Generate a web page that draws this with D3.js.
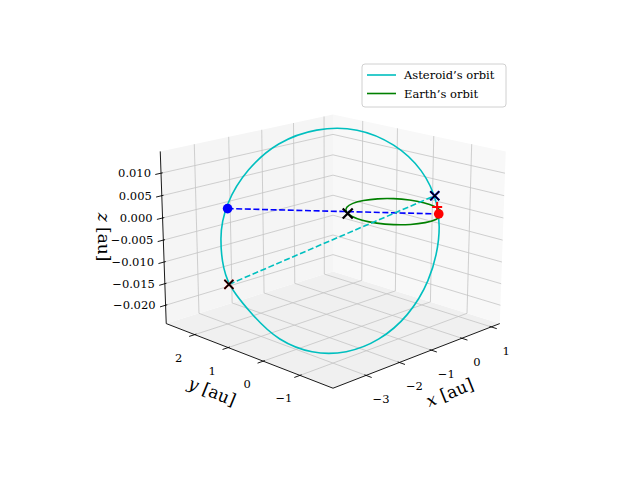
<!DOCTYPE html>
<html><head><meta charset="utf-8">
<script src="https://cdn.jsdelivr.net/npm/d3@7"></script>
<style>body{margin:0;background:#fff}</style></head>
<body><svg id="c" width="640" height="480"></svg>
<script>
// ---- data ----
const xLim = [-3.95, 1.3], yLim = [-1.86, 2.89], zLim = [-0.0243, 0.0148];
const xTicks = [-3, -2, -1, 0, 1];
const yTicks = [-1, 0, 1, 2];
const zTicks = [-0.020, -0.015, -0.010, -0.005, 0.000, 0.005, 0.010];
const zTickLabels = ["\u22120.020","\u22120.015","\u22120.010","\u22120.005","0.000","0.005","0.010"];
const astX = [0.812,0.897,0.711,0.277,-0.354,-1.106,-1.885,-2.70,-3.25,-3.55,-3.597,-3.411,-2.977,-2.346,-1.594,-0.815,-0.099,0.467];
const astY = [-0.305,0.322,0.971,1.562,2.027,2.307,2.368,2.28,1.88,1.33,0.678,0.029,-0.562,-1.027,-1.307,-1.368,-1.205,-0.836];
const astZ = [-0.0172,-0.0273,-0.0347,-0.0385,-0.0382,-0.0338,-0.0260,-0.0156,-0.0038,0.0059,0.0145,0.0208,0.0240,0.0238,0.0200,0.0134,0.0046,-0.0056];
const earthX = [1,0.940,0.766,0.5,0.174,-0.174,-0.5,-0.766,-0.94,-1,-0.94,-0.766,-0.5,-0.174,0.174,0.5,0.766,0.94];
const earthY = [0,0.342,0.643,0.866,0.985,0.985,0.866,0.643,0.342,0,-0.342,-0.643,-0.866,-0.985,-0.985,-0.866,-0.643,-0.342];
const blueDot = [-3.50, 1.40, 0.0045];
const redDot = [0.12, -1.10, 0.0016];
const redX = [-2.65, 2.30, -0.0167];
const blueX = [-0.24, -1.27, 0.0067];
const redPlus = [-0.034, -1.176, 0.0036];
const blackX = [-0.85, 0.53, 0.0];
const legendLabels = ["Asteroid\u2019s orbit", "Earth\u2019s orbit"];
const colors = {ast: "#00bfbf", earth: "#008000", blue: "#0000ff", red: "#ff0000"};

// ---- projection ----
const sx = d3.scaleLinear().domain(xLim).range([-2, 2]);
const sy = d3.scaleLinear().domain(yLim).range([-2, 2]);
const sz = d3.scaleLinear().domain(zLim).range([-1.5, 1.5]);
const elev = 17 * Math.PI / 180, azim = -135 * Math.PI / 180, dist = 25, K = 60, CX = 333, CY = 239;
const E = [Math.cos(elev)*Math.cos(azim), Math.cos(elev)*Math.sin(azim), Math.sin(elev)];
const R = [-Math.sin(azim), Math.cos(azim), 0];
const U = [-Math.sin(elev)*Math.cos(azim), -Math.sin(elev)*Math.sin(azim), Math.cos(elev)];
function P(x, y, z) {
  const p = [sx(x), sy(y), sz(z)];
  const dot = v => p[0]*v[0] + p[1]*v[1] + p[2]*v[2];
  const f = dist / (dist - dot(E));
  return [CX + K*f*dot(R), CY - K*f*dot(U)];
}
const svg = d3.select("#c");
const line = d3.line();
const [x0, x1] = xLim, [y0, y1] = yLim, [z0, z1] = zLim;

// panes
function poly(pts, fill) {
  svg.append("path").attr("d", line(pts.map(p => P(...p))) + "Z").attr("fill", fill).attr("stroke", "none");
}
poly([[x0,y0,z0],[x1,y0,z0],[x1,y1,z0],[x0,y1,z0]], "#f0f0f0");
poly([[x0,y1,z0],[x1,y1,z0],[x1,y1,z1],[x0,y1,z1]], "#f5f5f5");
poly([[x1,y0,z0],[x1,y1,z0],[x1,y1,z1],[x1,y0,z1]], "#f8f8f8");
// grid
const grid = svg.append("g").attr("stroke", "#c4c4c4").attr("stroke-width", 0.8).attr("fill", "none");
function seg(a, b, g = grid) { g.append("path").attr("d", line([P(...a), P(...b)])); }
xTicks.forEach(x => { seg([x,y0,z0],[x,y1,z0]); seg([x,y1,z0],[x,y1,z1]); });
yTicks.forEach(y => { seg([x0,y,z0],[x1,y,z0]); seg([x1,y,z0],[x1,y,z1]); });
zTicks.forEach(z => { seg([x0,y1,z],[x1,y1,z]); seg([x1,y1,z],[x1,y0,z]); });
// axis lines
const ax = svg.append("g").attr("stroke", "#000").attr("stroke-width", 0.9).attr("fill", "none");
seg([x0,y0,z0],[x1,y0,z0], ax);
seg([x0,y0,z0],[x0,y1,z0], ax);
seg([x0,y1,z0],[x0,y1,z1], ax);
const dxr = (x1-x0)*0.03, dyr = (y1-y0)*0.03;
const tfont = "'DejaVu Serif', 'Liberation Serif', serif";
xTicks.forEach(x => {
  seg([x,y0+dyr*0.3,z0],[x,y0-dyr,z0], ax);
  const p = P(x, y0, z0);
  svg.append("text").attr("x", p[0]+15).attr("y", p[1]+28).attr("text-anchor","middle")
    .attr("font-family", tfont).attr("font-size", 11.5).text(String(x).replace("-", "\u2212"));
});
yTicks.forEach(y => {
  seg([x0+dxr*0.3,y,z0],[x0-dxr,y,z0], ax);
  const p = P(x0, y, z0);
  svg.append("text").attr("x", p[0]-16).attr("y", p[1]+27).attr("text-anchor","middle")
    .attr("font-family", tfont).attr("font-size", 11.5).text(String(y).replace("-", "\u2212"));
});
zTicks.forEach((z, i) => {
  seg([x0+dxr*0.3,y1,z],[x0-dxr,y1,z], ax);
  const p = P(x0, y1, z);
  svg.append("text").attr("x", p[0]-10).attr("y", p[1]+4).attr("text-anchor","end")
    .attr("font-family", tfont).attr("font-size", 11.5).text(zTickLabels[i]);
});
// axis labels
function lbl(x, y, rot, v) {
  const t = svg.append("text").attr("transform", `translate(${x},${y}) rotate(${rot})`).attr("text-anchor","middle")
    .attr("font-family", tfont).attr("font-size", 17);
  t.append("tspan").attr("font-style","italic").text(v);
  t.append("tspan").text(" [au]");
}
lbl(452, 398, -22, "x");
lbl(210, 397, 22, "y");
lbl(98, 237, 90, "z");

// orbits
const curve = d3.line().curve(d3.curveCardinalClosed.tension(0));
svg.append("path").attr("d", curve(astX.map((x, i) => P(x, astY[i], astZ[i]))))
  .attr("fill","none").attr("stroke", colors.ast).attr("stroke-width", 1.6);
svg.append("path").attr("d", curve(earthX.map((x, i) => P(x, earthY[i], 0))))
  .attr("fill","none").attr("stroke", colors.earth).attr("stroke-width", 1.6);
// dashed lines
function dash(a, b, col) {
  svg.append("path").attr("d", line([P(...a), P(...b)])).attr("stroke", col).attr("stroke-width", 1.6)
    .attr("stroke-dasharray", "6,2.6").attr("fill","none");
}
dash(blueDot, redDot, colors.blue);
dash(redX, blueX, colors.ast);
// markers
function dot(p, col) { const s = P(...p); svg.append("circle").attr("cx", s[0]).attr("cy", s[1]).attr("r", 4.8).attr("fill", col); }
function xm(p, col, r, w) {
  const s = P(...p);
  svg.append("path").attr("d", `M${s[0]-r},${s[1]-r}L${s[0]+r},${s[1]+r}M${s[0]-r},${s[1]+r}L${s[0]+r},${s[1]-r}`)
    .attr("stroke", col).attr("stroke-width", w);
}
function pm(p, col, r, w) {
  const s = P(...p);
  svg.append("path").attr("d", `M${s[0]-r},${s[1]}L${s[0]+r},${s[1]}M${s[0]},${s[1]-r}L${s[0]},${s[1]+r}`)
    .attr("stroke", col).attr("stroke-width", w);
}
dot(blueDot, colors.blue);
dot(redDot, colors.red);
pm(redPlus, colors.red, 5, 2);
xm(redX, colors.red, 4.5, 2);
xm(redX, "#000", 4.5, 1.5);
xm(blueX, colors.blue, 4.5, 2.2);
xm(blueX, "#000", 4.5, 1.5);
xm(blackX, "#000", 5, 2.2);

// legend
const lg = svg.append("g");
lg.append("rect").attr("x", 362).attr("y", 64).attr("width", 144).attr("height", 43).attr("rx", 3)
  .attr("fill", "#fff").attr("fill-opacity", 0.8).attr("stroke", "#d0d0d0");
[colors.ast, colors.earth].forEach((c, i) => {
  const yy = 75 + i*18.5;
  lg.append("line").attr("x1", 367).attr("x2", 396).attr("y1", yy).attr("y2", yy).attr("stroke", c).attr("stroke-width", 1.6);
  lg.append("text").attr("x", 404).attr("y", yy+4).attr("font-family", tfont).attr("font-size", 11.5).text(legendLabels[i]);
});
</script></body></html>
